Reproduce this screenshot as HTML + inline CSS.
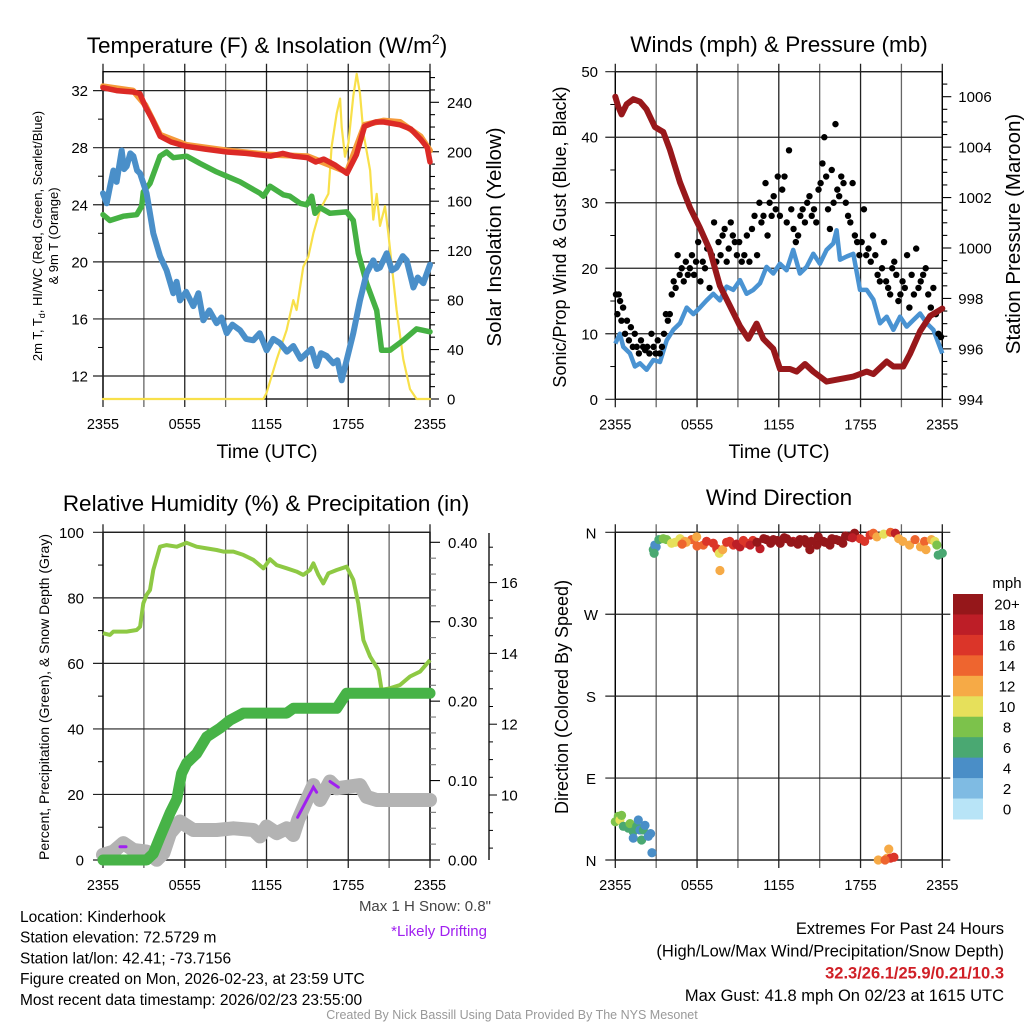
<!DOCTYPE html>
<html><head><meta charset="utf-8"><style>
html,body{margin:0;padding:0;background:#fff}
svg{display:block;font-family:"Liberation Sans",sans-serif}
</style></head><body>
<svg id="s" width="1024" height="1024" viewBox="0 0 1024 1024" xmlns="http://www.w3.org/2000/svg"></svg>
<script>
// ---------- DATA ----------
// Panel 1: temperature (F) & solar
const tempHours=[0,1,2.2,2.7,3.1,3.6,4.2,5,6.1,7.5,9.1,10.5,12.3,13.2,14,15,15.6,16.2,17,17.9,18.6,19.2,20,20.6,21.8,22.6,23.3,23.8,24];
const tempVals=[32.2,32.0,31.9,31.8,30.9,30.0,28.8,28.4,28.1,27.9,27.7,27.6,27.4,27.6,27.4,27.3,27.0,27.2,26.8,26.2,27.5,29.5,29.8,29.8,29.6,29.3,28.6,28.0,27.0];
const t9Hours=[0,2.2,3.1,4.2,6.1,9.1,12.3,15,17.9,19.2,20.6,21.8,23.3,24];
const t9Vals=[32.3,32.0,31.0,28.9,28.2,27.8,27.5,27.4,26.3,29.6,29.9,29.8,28.8,27.8];
const tdHours=[0,.51,1.49,2.47,2.84,2.96,3.45,4.18,4.67,5.16,6.14,7.12,8.34,9.08,10.06,11.52,11.77,12.26,13.24,13.72,14.46,14.95,15.32,15.56,15.93,16.66,17.88,18.37,18.74,19.35,20.09,20.45,21.06,22.04,23.02,24];
const tdVals=[23.3,22.9,23.2,23.3,23.9,24.9,25.5,27.4,27.7,27.3,27.4,26.9,26.3,26.0,25.6,24.8,24.6,25.3,24.7,24.6,24.1,24.0,24.6,23.4,23.8,23.4,23.5,22.9,20.6,18.5,16.6,13.8,13.8,14.5,15.3,15.1];
const wcHours=[0,.27,.5,.76,1.0,1.37,1.55,1.74,2.0,2.23,2.5,2.72,3.2,3.69,4.18,4.67,5.16,5.4,5.65,6.1,6.63,7.0,7.36,7.8,8.34,8.7,9.08,9.5,10.06,10.5,11.03,11.5,12.01,12.5,12.99,13.5,13.97,14.5,14.95,15.3,15.68,16.0,16.42,16.9,17.2,17.52,17.88,18.37,18.86,19.35,19.84,20.1,20.33,20.82,21.2,21.55,22.0,22.29,22.78,23.1,23.51,24];
const wcVals=[24.8,24.1,25.2,26.4,25.6,27.8,26.5,26.7,27.6,27.4,26.4,26.2,24.8,22.0,20.4,19.4,17.8,18.6,17.3,17.9,16.9,17.8,15.9,16.6,15.7,16.1,15.0,15.6,15.2,14.6,14.5,15.0,13.8,14.6,14.3,13.7,14.1,13.2,13.6,13.9,12.7,13.6,13.4,12.9,13.1,11.7,13.1,15.0,17.3,19.2,20.1,19.5,19.6,20.6,19.4,19.6,20.4,20.1,18.2,18.9,18.5,19.8];
const solHours=[0,11.77,12.01,12.75,13.48,13.97,14.21,14.7,15.07,15.44,15.93,16.54,16.78,17.15,17.4,17.52,17.76,18.01,18.37,18.62,18.86,19.11,19.6,19.84,20.09,20.33,20.7,20.94,21.55,22.04,22.53,23.02,24];
const solVals=[0,0,5,32,56,80,72,107,115,134,153,166,204,231,243,220,196,207,245,263,247,215,185,145,166,140,156,134,72,32,8,0,0];
// Panel 2: wind & pressure
const presHours=[0,.22,.46,.83,1.32,1.81,2.29,2.91,3.52,4.01,4.75,5.48,6.21,6.95,7.68,8.42,9.15,9.76,10.37,10.86,11.6,12.09,12.82,13.31,13.92,14.53,15.51,16.49,17.47,18.45,18.94,19.92,20.41,21.14,21.63,22.37,23.1,24];
const presVals=[1006.0,1005.6,1005.3,1005.7,1005.9,1005.8,1005.5,1004.8,1004.6,1003.9,1002.6,1001.6,1000.8,999.9,998.5,997.7,996.9,996.4,997.0,996.4,996.0,995.2,995.2,995.1,995.4,995.1,994.7,994.8,994.9,995.1,995.0,995.5,995.3,995.3,995.8,996.7,997.3,997.6];
const windHours=[0,.34,.59,1.08,1.44,1.81,2.3,2.79,3.28,3.77,4.26,4.75,5.24,5.73,6.21,6.7,7.19,7.68,8.17,8.66,9.15,9.64,10.13,10.62,11.1,11.6,12.08,12.57,13.06,13.55,14.04,14.53,15.02,15.51,16.0,16.24,16.49,16.98,17.47,17.96,18.45,18.94,19.43,19.92,20.41,20.9,21.39,21.88,22.37,22.86,23.35,24];
const windVals=[8.5,10,8,7,5,5.5,4.5,6,5.7,9,10.6,11.6,14,13,14,15.1,16.1,15.1,17.2,16.7,18.2,16.1,16.7,17.7,20.2,19.2,20.7,19.7,22.8,19.2,20.2,22.2,20.7,22.8,23.8,25.8,21.3,21.8,22.2,16.7,16.7,15.2,11.6,12.6,10.6,12.6,11.1,12.1,13.1,11.6,10.6,7];
const gustSegs=[[0,.5],[.5,1.5],[1.5,3.5],[3.5,4.5],[4.5,6],[6,7.5],[7.5,9],[9,10.5],[10.5,12],[12,13.5],[13.5,15],[15,16.5],[16.5,18],[18,19.5],[19.5,21],[21,22.5],[22.5,24]];
const gustVals=[[16,13,16,15,12],[14,10,12,9,11,8,10],[8,7,9,8,7.5,8,7,10,8,7,9,7,8],[10,13,12,13,16,18,17],[22,19,20,18,21,19,20,22,19,21],[24,18,21,20,23,17,22,27,21],[24,22,25,26,21,23,27,25,24,22],[24,21,22,25,21,26,28,22],[30,27,28,33,25,30,28,31,29,34],[28,32,34,27,38,29,26,24,25],[28,29,27,30,31,28,29,27,32],[33,36,40,34,29,26,35,30,42,32,31],[34,33,30,28,27,33,25,24,22],[24,29,22,23,21,25,22,19,18],[20,24,18,17,16,20,21,19,15,16],[18,17,22,14,19,16,23,17,18],[19,20,16,14,17,13,10,9.5]];
// Panel 3: RH, precip, snow
const rhHours=[0,.51,.76,1.74,2.47,2.72,2.96,3.2,3.45,3.69,4.18,4.67,5.41,6.14,6.87,7.61,8.34,8.83,9.57,10.3,11.03,11.77,12.26,12.75,13.48,14.21,14.7,15.19,15.44,15.81,16.17,16.54,17.15,17.88,18.37,18.74,19.11,19.6,20.21,20.45,21.06,21.8,22.53,23.27,24];
const rhVals=[69.2,68.7,69.7,69.7,70.2,71.2,78.3,80.9,82.4,88.5,95.6,96.1,95.6,96.8,95.6,95.1,94.6,94.1,94.1,93.1,91.6,89.0,91.8,90.0,89.0,88.0,87.0,88.5,90.5,87.0,84.4,87.5,88.5,89.5,85.5,78.3,67.1,62.1,58.0,51.9,52.4,53.4,56.0,57.5,61.0];
const pcpHours=[0,3.2,3.69,4.18,4.92,5.41,5.77,6.14,6.87,7.61,8.59,9.32,10.3,13.48,13.97,17.15,17.88,24];
const pcpVals=[0,0,.008,.029,.059,.076,.109,.122,.134,.155,.166,.176,.185,.185,.191,.191,.21,.21];
const snowHours=[0,.76,1.49,2.23,3.2,3.94,4.43,4.92,5.65,6.63,8.34,9.57,11.03,11.52,12.01,12.75,13.48,13.97,14.33,14.95,15.44,15.93,16.66,17.15,18.86,19.35,20.09,24];
const snowVals=[8.31,8.4,8.64,8.45,8.4,8.17,8.36,8.92,9.25,9.01,9.01,9.06,9.01,8.83,9.11,8.92,9.06,8.87,9.3,9.86,10.28,9.86,10.38,10.19,10.28,9.95,9.86,9.86];
const driftHours=[[1.25,1.69],[14.28,15.44,15.68],[16.66,17.27]];
const driftVals=[[8.54,8.54],[9.37,10.22,10.08],[10.38,10.22]];
// Panel 4: wind direction (rows of 10, aligned)
const dirHours=[
0,.22,.34,.46,.59,.95,1.08,1.32,1.57,1.69,
1.81,2.06,1.32,1.93,2.18,2.42,2.59,2.69,2.79,2.9,
3.0,2.85,3.2,3.52,3.77,4.13,4.4,4.75,5.1,5.6,
5.97,6.46,6.7,7.19,7.45,7.63,7.68,7.88,8.17,8.66,
9.15,9.64,10.1,10.62,11.1,11.6,12.1,12.57,13.06,13.55,
14.04,14.28,14.8,15.26,15.75,16.2,16.7,17.2,17.56,17.96,
18.3,18.7,18.94,19.2,19.7,20.2,20.55,20.8,21.1,21.6,
22.0,22.4,22.7,22.8,23.2,23.45,23.6,23.7,24,8.4,
8.9,9.4,9.9,10.4,10.9,11.4,11.9,12.4,12.9,13.4,
13.9,14.4,14.9,15.4,15.9,16.4,16.9,17.4,6.0,5.2,
4.9,19.3,19.95,20.07,20.2,20.45,19.8];
const dirVals=[
42,48,44,49,37,35,40,31,37,44,
33,33,24,22,38,26,29,8,341,346,
344,337,352,353,352,348,349,353,350,352,
355,346,350,348,342,337,318,341,349,346,
344,348,351,342,352,352,348,353,350,352,
348,341,346,350,346,352,348,355,359,353,
350,357,359,355,358,360,359,353,350,346,
352,344,350,341,352,350,346,335,337,350,
347,351,346,349,353,348,351,354,349,347,
352,350,355,349,353,351,356,354,345,349,
347,0,2,12,2,3,0];
const dirSpeeds=[
8,9,10,8,6,6,8,6,6,4,
4,6,4,6,4,4,4,4,6,4,
4,6,6,8,8,10,10,10,12,14,
12,14,16,16,16,10,12,12,16,16,
18,16,16,18,20,20,20,20,18,20,
20,20,20,20,20,20,20,20,20,16,
16,16,14,12,10,14,18,12,12,12,
14,12,14,12,12,10,8,6,6,16,
18,16,18,20,20,20,20,20,20,20,
20,20,20,20,20,20,20,18,14,12,
14,12,12,12,16,16,14];
const cbLabels=["20+","18","16","14","12","10","8","6","4","2","0"];
const cbColors=["#95171a","#bd1e27","#db3529","#ee652f","#f6aa46","#e6e05b","#7cc24b","#4aa872","#4a8ec7","#7fbbe3","#b8e4f7"];
const timeTicks=["2355","0555","1155","1755","2355"];

// ---------- HELPERS ----------
const NS="http://www.w3.org/2000/svg";const S=document.getElementById('s');
function mk(tag,at,parent){const e=document.createElementNS(NS,tag);for(const k in at)e.setAttribute(k,at[k]);(parent||S).appendChild(e);return e;}
function txt(str,at,parent){const e=mk('text',at,parent);e.textContent=str;return e;}
function pathD(xs,ys){return xs.map((x,i)=>(i?'L':'M')+x.toFixed(1)+','+ys[i].toFixed(1)).join('');}
function speedColor(v){let i=Math.min(10,Math.floor(v/2));return cbColors[10-i];}

function frame(g,L,R,T,B,name){
  for(let k=0;k<=8;k++){const x=L+k*(R-L)/8;
    const l=mk('line',{x1:x,x2:x,y1:T-8,y2:B+8,stroke:(k%2?'#666':'#222'),'stroke-width':1.3},g);
    
    }
  const r=mk('rect',{x:L,y:T,width:R-L,height:B-T,fill:'none',stroke:'#000','stroke-width':1.3},g);
  
  
  for(let k=0;k<5;k++){const x=L+k*(R-L)/4;
    const t=txt(timeTicks[k],{x:x,y:B+30,'font-size':14.5,'text-anchor':'middle'},g);
    
    }
}
function hgrid(g,L,R,y,label,lx,name){
  const l=mk('line',{x1:L-10,x2:R,y1:y,y2:y,stroke:'#222','stroke-width':1.2},g);
  
  
  if(label!==null){const t=txt(label,{x:lx,y:y+5.5,'font-size':15,'text-anchor':'end'},g);
    
    }
}

// ---------- PANEL 1 ----------
(function(){
const L=103,R=430,T=71.7,B=399;
const X=h=>L+h/24*(R-L);
const Y=t=>376-(t-12)*14.27;
const Ys=w=>399-w*(399-102.3)/240;
const g=mk('g',{});


const ti=txt('',{x:267,y:53,'font-size':22.5,'text-anchor':'middle'},g);
ti.innerHTML='Temperature (F) &amp; Insolation (W/m<tspan dy="-9" font-size="14">2</tspan><tspan dy="9">)</tspan>';


frame(g,L,R,T,B,'temp');
[32,28,24,20,16,12].forEach(v=>hgrid(g,L,R,Y(v),String(v),88,'temp'));
for(let v=14;v<=30;v+=4){const y=Y(v);const m=mk('line',{x1:L-5,x2:L,y1:y,y2:y,stroke:'#000'},g);}
for(let w=0;w<=260;w+=10){const y=Ys(w);const big=w%40==0;
  const m=mk('line',{x1:R,x2:R+(big?9:5),y1:y,y2:y,stroke:'#000','stroke-width':1.1},g);
  
  
  if(big){const t=txt(String(w),{x:R+17,y:y+5.5,'font-size':15},g);}}
const series=[[solHours,solVals,'#f8e04a',2.2,Ys,'solar-insolation-line'],
 [tdHours,tdVals,'#45b143',5.5,Y,'dewpoint-line'],
 [wcHours,wcVals,'#4a8fc9',6,Y,'wind-chill-line'],
 [t9Hours,t9Vals,'#f59a3a',6,Y,'temp-9m-line'],
 [tempHours,tempVals,'#dc2a26',5.5,Y,'temp-2m-line']];
series.forEach(s=>{const p=mk('path',{d:pathD(s[0].map(X),s[1].map(s[4])),fill:'none',stroke:s[2],'stroke-width':s[3],'stroke-linejoin':'round','stroke-linecap':'round'},g);
  
  });
const xl=txt('Time (UTC)',{x:267,y:458,'font-size':19.5,'text-anchor':'middle'},g);


const yl=txt('',{transform:'translate(42,236) rotate(-90)','font-size':13,'text-anchor':'middle'},g);
yl.innerHTML='2m T, T<tspan font-size="9" dy="3">d</tspan><tspan dy="-3">, HI/WC (Red, Green, Scarlet/Blue)</tspan>';


const yl2=txt('& 9m T (Orange)',{transform:'translate(58,236) rotate(-90)','font-size':13,'text-anchor':'middle'},g);


const yr=txt('Solar Insolation (Yellow)',{transform:'translate(501,237) rotate(-90)','font-size':20.5,'text-anchor':'middle'},g);


})();

// ---------- PANEL 2 ----------
(function(){
const L=615.3,R=942.3,T=71.7,B=399.3;
const X=h=>L+h/24*(R-L);
const Y=w=>B-w*(B-T)/50;
const Yp=p=>B-(p-994)*(B-96.7)/12;
const g=mk('g',{});


const ti=txt('Winds (mph) & Pressure (mb)',{x:779,y:52,'font-size':22.5,'text-anchor':'middle'},g);


frame(g,L,R,T,B,'wind');
[50,40,30,20,10,0].forEach(v=>hgrid(g,L,R,Y(v),String(v),598,'wind'));
for(let v=5;v<50;v+=10){const y=Y(v);const m=mk('line',{x1:L-5,x2:L,y1:y,y2:y,stroke:'#000'},g);}
for(let p=994;p<=1006.5;p+=0.5){const y=Yp(p);const big=Math.abs(p%2)<1e-6;
  const m=mk('line',{x1:R,x2:R+(big?9:5),y1:y,y2:y,stroke:'#000','stroke-width':1.1},g);
  
  
  if(big){const t=txt(String(p),{x:R+16,y:y+5.5,'font-size':15},g);}}
const wl=mk('path',{d:pathD(windHours.map(X),windVals.map(Y)),fill:'none',stroke:'#4a93d2','stroke-width':4.5,'stroke-linejoin':'round'},g);


gustSegs.forEach((seg,i)=>{const vals=gustVals[i];vals.forEach((v,j)=>{
  const h=seg[0]+(j+0.5)*(seg[1]-seg[0])/vals.length;
  const c=mk('circle',{cx:X(h),cy:Y(v),r:3.2,fill:'#000'},g);
  
  });});
const pl=mk('path',{d:pathD(presHours.map(X),presVals.map(Yp)),fill:'none',stroke:'#98181b','stroke-width':6,'stroke-linejoin':'round','stroke-linecap':'round'},g);


const xl=txt('Time (UTC)',{x:779,y:458,'font-size':19.5,'text-anchor':'middle'},g);


const yl=txt('Sonic/Prop Wind & Gust (Blue, Black)',{transform:'translate(566,237) rotate(-90)','font-size':18,'text-anchor':'middle'},g);


const yr=txt('Station Pressure (Maroon)',{transform:'translate(1020,234) rotate(-90)','font-size':20.5,'text-anchor':'middle'},g);


})();

// ---------- PANEL 3 ----------
(function(){
const L=103,R=430,T=532.3,B=860;
const X=h=>L+h/24*(R-L);
const Y=v=>B-v*(B-T)/100;
const Yp=p=>B-p*(B-542.3)/0.4;
const Ysn=s=>795-(s-10)*35.4;
const g=mk('g',{});


const ti=txt('Relative Humidity (%) & Precipitation (in)',{x:266,y:511,'font-size':22.5,'text-anchor':'middle'},g);


frame(g,L,R,T,B,'rh');
[100,80,60,40,20,0].forEach(v=>hgrid(g,L,R,Y(v),String(v),84,'rh'));
for(let v=10;v<100;v+=20){const y=Y(v);const m=mk('line',{x1:L-5,x2:L,y1:y,y2:y,stroke:'#000'},g);}
for(let k=0;k<=20;k++){const p=k*0.02;const y=Yp(p);const big=k%5==0;
  const m=mk('line',{x1:R,x2:R+(big?10:6),y1:y,y2:y,stroke:big?'#000':'#777','stroke-width':1.1},g);
  
  
  if(big){const t=txt(p.toFixed(2),{x:R+18,y:y+5.5,'font-size':15},g);}}
const sa=mk('line',{x1:489,x2:489,y1:533,y2:860,stroke:'#000','stroke-width':1.3},g);


for(let s=8.5;s<=17;s+=0.5){const y=Ysn(s);if(y<533)continue;const big=Math.abs(s%2)<1e-6;
  const m=mk('line',{x1:489,x2:big?497:493,y1:y,y2:y,stroke:'#000'},g);
  
  
  if(big){const t=txt(String(s),{x:501,y:y+5.5,'font-size':15},g);}}
const rh=mk('path',{d:pathD(rhHours.map(X),rhVals.map(Y)),fill:'none',stroke:'#8ec944','stroke-width':4,'stroke-linejoin':'round'},g);


const sn=mk('path',{d:pathD(snowHours.map(X),snowVals.map(Ysn)),fill:'none',stroke:'#b3b3b3','stroke-width':14,'stroke-linejoin':'round','stroke-linecap':'round'},g);


const pc=mk('path',{d:pathD(pcpHours.map(X),pcpVals.map(Yp)),fill:'none',stroke:'#47b347','stroke-width':11,'stroke-linejoin':'round','stroke-linecap':'round'},g);


driftHours.forEach((hs,i)=>{const d=mk('path',{d:pathD(hs.map(X),driftVals[i].map(Ysn)),fill:'none',stroke:'#a020f0','stroke-width':3,'stroke-linecap':'round'},g);
  
  });
const yl=txt('Percent, Precipitation (Green), & Snow Depth (Gray)',{transform:'translate(49,697) rotate(-90)','font-size':14,'text-anchor':'middle'},g);


const ms=txt('Max 1 H Snow: 0.8"',{x:491,y:911,'font-size':15,fill:'#444','text-anchor':'end'},g);


const dr=txt('*Likely Drifting',{x:487,y:936,'font-size':15,fill:'#a020f0','text-anchor':'end'},g);


})();

// ---------- PANEL 4 ----------
(function(){
const L=615.3,R=942.3,T=532.3,B=860;
const X=h=>L+h/24*(R-L);
const Y=d=>B-d*(B-T)/360;
const g=mk('g',{});


const ti=txt('Wind Direction',{x:779,y:505,'font-size':22.5,'text-anchor':'middle'},g);


frame(g,L,R,T,B,'dir');
const lbls=['N','W','S','E','N'];
[360,270,180,90,0].forEach((d,i)=>{hgrid(g,L,R+8,Y(d),null,0,'dir');
  const t=txt(lbls[i],{x:591,y:Y(d)+6,'font-size':15,'text-anchor':'middle'},g);
  
  });
dirHours.forEach((h,i)=>{const c=mk('circle',{cx:X(h),cy:Y(dirVals[i]),r:4.6,fill:speedColor(dirSpeeds[i])},g);
  
  });
const yl=txt('Direction (Colored By Speed)',{transform:'translate(568,697) rotate(-90)','font-size':18,'text-anchor':'middle'},g);


const mph=txt('mph',{x:1007,y:588,'font-size':15,'text-anchor':'middle'},g);


const h=(819-594)/11;
cbColors.forEach((c,i)=>{const r=mk('rect',{x:953,y:594+i*h,width:30,height:h+0.5,fill:c},g);
  
  
  const t=txt(cbLabels[i],{x:1007,y:594+i*h+h/2+5.5,'font-size':15,'text-anchor':'middle'},g);
  
  });
})();

// ---------- FOOTER ----------
const info=['Location: Kinderhook','Station elevation: 72.5729 m','Station lat/lon: 42.41; -73.7156','Figure created on Mon, 2026-02-23, at 23:59 UTC','Most recent data timestamp: 2026/02/23 23:55:00'];
info.forEach((s,i)=>{const t=txt(s,{x:20,y:922+i*20.7,'font-size':15.5});
  
  });
const ex=[['Extremes For Past 24 Hours','#000','normal'],['(High/Low/Max Wind/Precipitation/Snow Depth)','#000','normal'],['32.3/26.1/25.9/0.21/10.3','#d02027','bold'],['Max Gust: 41.8 mph On 02/23 at 1615 UTC','#000','normal']];
ex.forEach((s,i)=>{const t=txt(s[0],{x:1004,y:934+i*22.3,'font-size':16.5,'text-anchor':'end',fill:s[1],'font-weight':s[2]});
  
  });
const cr=txt('Created By Nick Bassill Using Data Provided By The NYS Mesonet',{x:512,y:1019,'font-size':12.5,'text-anchor':'middle',fill:'#999'});


</script>
</body></html>
